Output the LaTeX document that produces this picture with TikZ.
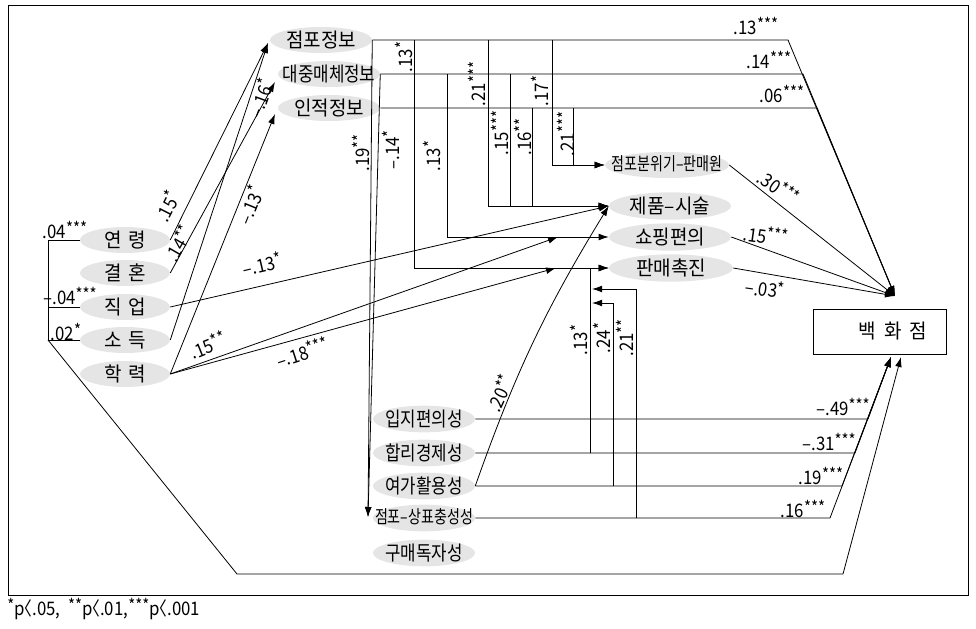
\documentclass[tikz,border=0pt]{standalone}
\usepackage{fontspec}
\setmainfont{Noto Sans CJK KR}
\newfontfamily\kfA[FakeStretch=0.95]{Noto Sans CJK KR}
\newfontfamily\kfB[FakeStretch=0.84]{Noto Sans CJK KR}
\newfontfamily\kfC[FakeStretch=0.78]{Noto Sans CJK KR}
\newfontfamily\kfL[FakeStretch=0.9]{Noto Sans CJK KR}
\usetikzlibrary{arrows.meta,shapes.geometric}
\definecolor{ovalgray}{RGB}{229,229,229}
\newcommand\ovtxt[1]{\makebox[0pt]{\smash{\raisebox{-0.38em}{#1}}}}
\newcommand\sg[1]{\raisebox{0.22em}{\fontsize{12.5}{13}\selectfont #1}}
\newcommand\ltx{\kern-0.5em〈\kern0.02em}
\begin{document}
\begin{tikzpicture}[x=0.75pt,y=-0.75pt,
  oval/.style={ellipse,fill=ovalgray,inner sep=0pt},
  topo/.style={oval,minimum width=76.5pt,minimum height=19.5pt},
  mido/.style={oval,minimum width=91.5pt,minimum height=20.5pt},
  lefto/.style={oval,minimum width=67.5pt,minimum height=19.5pt},
  boto/.style={oval,minimum width=76.5pt,minimum height=20pt},
  big/.style={font=\kfA\fontsize{15}{17}\selectfont},
  bigc/.style={font=\kfB\fontsize{15}{17}\selectfont},
  ln/.style={line width=0.6pt},
  arr/.style={ln,-{Latex[length=7.5pt,width=5pt]}},
  lab/.style={font=\kfL\fontsize{14}{16}\selectfont,inner sep=0pt},
]
\useasboundingbox (0,0) rectangle (976,629);
\draw[ln] (8,5) rectangle (968,595);

% top information nodes
\node[topo,big] (jp) at (321,40) {\ovtxt{점포정보}};
\node[topo,bigc] (dm) at (329,74) {\ovtxt{대중매체정보}};
\node[topo,big] (ij) at (329,108) {\ovtxt{인적정보}};

% middle nodes
\node[oval,minimum width=93pt,minimum height=19.5pt] (ja) at (667,165) {\ovtxt{\kfC\fontsize{13.5}{15}\selectfont 점포분위기–판매원}};
\node[mido,big] (js) at (670,206) {\ovtxt{제품–시술}};
\node[mido,big] (sp) at (670,237) {\ovtxt{쇼핑편의}};
\node[mido,big,minimum width=93pt] (pc) at (671,268) {\ovtxt{판매촉진}};

% left nodes
\node[lefto,big] (ag) at (125,240) {\ovtxt{연\hspace{5pt}령}};
\node[lefto,big] (mr) at (125,273) {\ovtxt{결\hspace{5pt}혼}};
\node[lefto,big] (jb) at (125,307) {\ovtxt{직\hspace{5pt}업}};
\node[lefto,big] (ic) at (125,340) {\ovtxt{소\hspace{5pt}득}};
\node[lefto,big] (ed) at (125,374) {\ovtxt{학\hspace{5pt}력}};

% bottom nodes
\node[boto,bigc] (lc) at (424,419) {\ovtxt{입지편의성}};
\node[boto,bigc] (re) at (424,453) {\ovtxt{합리경제성}};
\node[boto,bigc] (le) at (424,486) {\ovtxt{여가활용성}};
\node[boto] (lo) at (424,518) {\ovtxt{\kfC\fontsize{13.5}{15}\selectfont 점포–상표충성성}};
\node[boto,bigc] (ui) at (424,553) {\ovtxt{구매독자성}};

% department store box
\node[draw,line width=0.6pt,minimum width=99.75pt,minimum height=33.75pt,inner sep=0pt,font=\kfA\fontsize{15}{17}\selectfont] (dp) at (879.5,331.5) {\hspace*{20pt}백\hspace{6pt}화\hspace{6pt}점};

% coordinates
\coordinate (tipA) at (895,296);
\coordinate (tipC) at (891,357);
\coordinate (tipD) at (901,357);
\coordinate (tipB) at (368,517);
\coordinate (a1) at (788,40);
\coordinate (a2) at (803,74);
\coordinate (a3) at (817,108);
\coordinate (b1) at (868,419);
\coordinate (b2) at (855,453);
\coordinate (b3) at (842,486);
\coordinate (b4) at (830,518);
\coordinate (k0) at (48,240);
\coordinate (k1) at (48,307);
\coordinate (k2) at (48,340);
\coordinate (k3) at (237,574);
\coordinate (k4) at (843,574);
\coordinate (jpin) at (268,43);
\coordinate (dmin) at (275,82);
\coordinate (ijin) at (275,114);
\coordinate (v1) at (414,40);
\coordinate (v2) at (447,74);
\coordinate (v3) at (488,40);
\coordinate (v4) at (510,74);
\coordinate (v5) at (532,108);
\coordinate (v6) at (552,40);
\coordinate (v7) at (573,108);
\coordinate (m1) at (558,237);
\coordinate (m2) at (556,268);
\coordinate (w1) at (590,453);
\coordinate (w2) at (613,486);
\coordinate (w3) at (636,518);
\coordinate (r2) at (592,303);
\coordinate (r3) at (592,289);

% connectors to department store (top)
\draw[arr] (jp.east) -- (a1) -- (tipA);
\draw[arr] (dm.east) -- (a2) -- (tipA);
\draw[arr] (ij.east) -- (a3) -- (tipA);
\draw[arr] (ja.east) -- (tipA);
\draw[arr] (sp.east) -- (tipA);
\draw[arr] (pc.east) -- (tipA);

% info -> loyalty
\draw[arr] (jp.east) -- (tipB);
\draw[arr] (dm.east) -- (tipB);

% info -> middle nodes
\draw[arr] (v1) |- (pc.west);
\draw[arr] (v2) |- (sp.west);
\draw[arr] (v3) |- (js.west);
\draw[arr] (v4) |- (js.west);
\draw[arr] (v5) |- (js.west);
\draw[arr] (v6) |- (ja.west);
\draw[arr] (v7) |- (ja.west);

% demographic -> info
\draw[arr] (ag.east) -- (jpin);
\draw[arr] (ic.east) -- (jpin);
\draw[arr] (mr.east) -- (dmin);
\draw[arr] (ed.east) -- (ijin);

% demographic -> middle
\draw[arr] (jb.east) -- (js.west);
\draw[arr] (ed.east) -- (m1);
\draw[arr] (ed.east) -- (m2);

% lifestyle -> middle
\draw[arr] (le.east) to[bend left=6] (js.west);
\draw[arr] (w1) |- (pc.west);
\draw[arr] (w2) |- (r2);
\draw[arr] (w3) |- (r3);

% lifestyle -> department store
\draw[arr] (lc.east) -- (b1) -- (tipC);
\draw[arr] (re.east) -- (b2) -- (tipC);
\draw[arr] (le.east) -- (b3) -- (tipC);
\draw[arr] (lo.east) -- (b4) -- (tipC);

% bracket
\draw[ln] (ag.west) -- (k0) -- (k2) -- (ic.west);
\draw[ln] (k1) -- (jb.west);
\draw[arr] (k2) -- (k3) -- (k4) -- (tipD);

% labels
\node[lab] at (756,26) {.13\sg{***}};
\node[lab] at (769,60) {.14\sg{***}};
\node[lab] at (782,94) {.06\sg{***}};
\node[lab,rotate=-35] at (779,187) {.30\sg{***}};
\node[lab,rotate=-8] at (766,235) {.15\sg{***}};
\node[lab,rotate=-8] at (765,288) {–.03\sg{*}};

\node[lab] at (843,407) {–.49\sg{***}};
\node[lab] at (829,442) {–.31\sg{***}};
\node[lab] at (821,476) {.19\sg{***}};
\node[lab] at (803,509) {.16\sg{***}};

\node[lab] at (65,230) {.04\sg{***}};
\node[lab] at (70,296) {–.04\sg{***}};
\node[lab] at (66,332) {.02\sg{*}};

\node[lab,rotate=63] at (167,206) {.15\sg{*}};
\node[lab,rotate=60] at (178,243) {.14\sg{**}};
\node[lab,rotate=70] at (260,98) {–.16\sg{*}};
\node[lab,rotate=68] at (250,205) {–.13\sg{*}};
\node[lab,rotate=13] at (262,264) {–.13\sg{*}};
\node[lab,rotate=22] at (208,345) {.15\sg{**}};
\node[lab,rotate=18] at (302,352) {–.18\sg{***}};
\node[lab,rotate=65] at (500,393) {.20\sg{**}};

\node[lab,rotate=90] at (404,57) {.13\sg{*}};
\node[lab,rotate=90] at (361,153) {.19\sg{**}};
\node[lab,rotate=90] at (391,150) {–.14\sg{*}};
\node[lab,rotate=90] at (432,156) {.13\sg{*}};
\node[lab,rotate=90] at (477,84) {.21\sg{***}};
\node[lab,rotate=90] at (500,133) {.15\sg{***}};
\node[lab,rotate=90] at (523,137) {.16\sg{**}};
\node[lab,rotate=90] at (540,91) {.17\sg{*}};
\node[lab,rotate=90] at (566,134) {.21\sg{***}};
\node[lab,rotate=90] at (579,340) {.13\sg{*}};
\node[lab,rotate=90] at (602,338) {.24\sg{*}};
\node[lab,rotate=90] at (625,338) {.21\sg{**}};

% footnote
\node[lab,anchor=west] (fn) at (7,609) {\sg{*}p\ltx.05,\ \ \sg{**}p\ltx.01,\sg{***}p\ltx.001};
\end{tikzpicture}
\end{document}
